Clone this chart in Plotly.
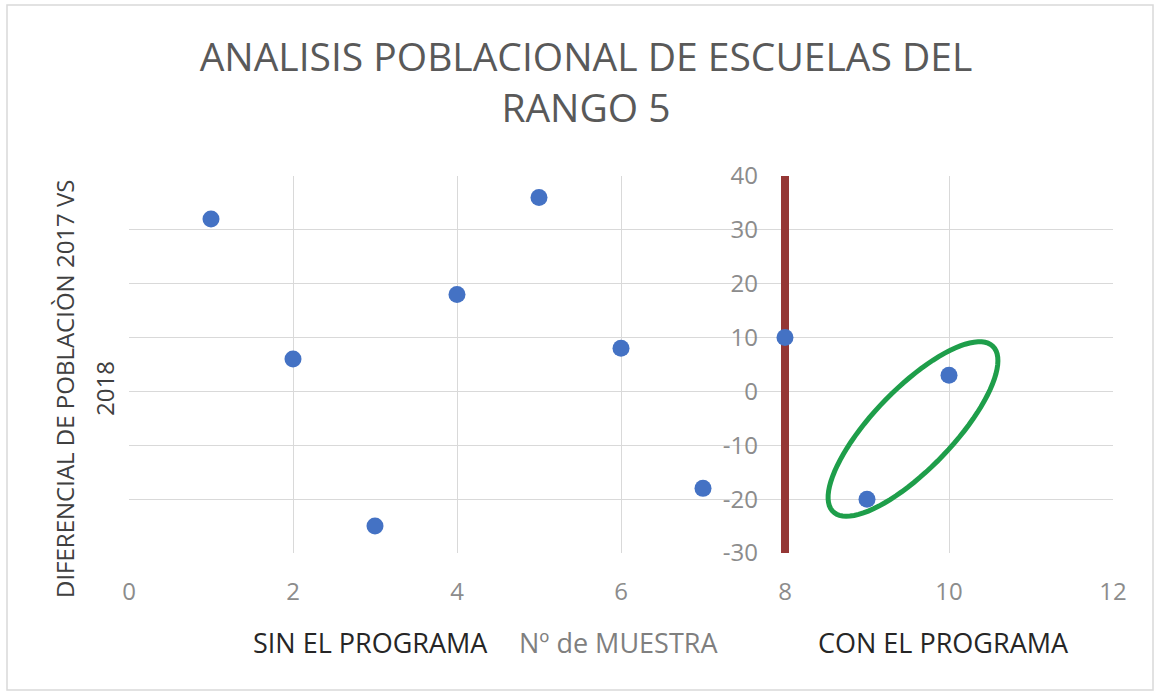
import numpy as np
import plotly.graph_objects as go

muestra = [1, 2, 3, 4, 5, 6, 7, 8, 9, 10]
diferencial = [32, 6, -25, 18, 36, 8, -18, 10, -20, 3]
x_ticks = [0, 2, 4, 6, 8, 10, 12]
y_ticks = [-30, -20, -10, 0, 10, 20, 30, 40]
y_ticklabels = [str(v) for v in y_ticks]
divider_x = 8

W, H = 1155, 694
ML, MR, MT, MB = 129, 42, 176, 141
PW, PH = W - ML - MR, H - MT - MB
XR = [0, 12]
YR = [-30, 40]

def px_to_data(px, py):
    x = XR[0] + (px - ML) / PW * (XR[1] - XR[0])
    y = YR[1] - (py - MT) / PH * (YR[1] - YR[0])
    return x, y

def to_paper(px, py):
    return (px - ML) / PW, 1 - (py - MT) / PH

fig = go.Figure()

fig.add_trace(go.Scatter(
    x=muestra, y=diferencial, mode="markers",
    marker=dict(color="#4472C4", size=17),
    showlegend=False, cliponaxis=False, hoverinfo="skip",
))

# vertical red divider
fig.add_shape(type="line", xref="x", yref="y", x0=divider_x, x1=divider_x,
              y0=YR[0], y1=YR[1], line=dict(color="#953735", width=8), layer="between")

# green ellipse (pixel-space parameters)
cx, cy, a, b, ang = 913, 429, 115, 40, np.deg2rad(-46)
t = np.linspace(0, 2 * np.pi, 90)
ex = cx + a * np.cos(t) * np.cos(ang) - b * np.sin(t) * np.sin(ang)
ey = cy + a * np.cos(t) * np.sin(ang) + b * np.sin(t) * np.cos(ang)
pts = [px_to_data(u, v) for u, v in zip(ex, ey)]
path = "M " + " L ".join(f"{u:.4f},{v:.4f}" for u, v in pts) + " Z"
fig.add_shape(type="path", xref="x", yref="y", path=path,
              line=dict(color="#1E9E4A", width=5), layer="above")

# outer border
bx0, by0 = to_paper(7, 5)
bx1, by1 = to_paper(1153, 690)
fig.add_shape(type="rect", xref="paper", yref="paper", x0=bx0, y0=by1, x1=bx1, y1=by0,
              line=dict(color="#D9D9D9", width=1.5), layer="below")

font_family = "Open Sans"
# y-axis title (two lines)
for txt, pxx in [("DIFERENCIAL DE POBLACIÒN 2017 VS", 64), ("2018", 104)]:
    ytx, yty = to_paper(pxx, 389)
    fig.add_annotation(xref="paper", yref="paper", x=ytx, y=yty, showarrow=False,
                       text=txt, textangle=-90, xanchor="center", yanchor="middle",
                       font=dict(family=font_family, size=24, color="#404040"))

# x-axis labels
for txt, pxx, col in [("SIN EL PROGRAMA", 370, "#262626"),
                      ("Nº de MUESTRA", 618, "#7F7F7F"),
                      ("CON EL PROGRAMA", 943, "#262626")]:
    ax_, ay_ = to_paper(pxx, 642)
    fig.add_annotation(xref="paper", yref="paper", x=ax_, y=ay_, showarrow=False,
                       text=txt, xanchor="center", yanchor="middle",
                       font=dict(family=font_family, size=27, color=col))

fig.update_layout(
    width=W, height=H,
    margin=dict(l=ML, r=MR, t=MT, b=MB),
    paper_bgcolor="white", plot_bgcolor="white",
    hovermode=False,
    title=dict(text="ANALISIS POBLACIONAL DE ESCUELAS DEL<br>RANGO 5",
               x=586 / W, xanchor="center", y=1 - 71 / H, yanchor="middle",
               font=dict(family=font_family, size=39, color="#595959")),
    xaxis=dict(range=XR, tickvals=x_ticks, showgrid=True, gridcolor="#D9D9D9",
               gridwidth=1, zeroline=False, showline=False, fixedrange=True,
               tickfont=dict(family=font_family, size=24, color="#8C8C8C"),
               ticks="", ticklabelstandoff=22),
    yaxis=dict(range=YR, tickvals=y_ticks, ticktext=y_ticklabels,
               showgrid=True, gridcolor="#D9D9D9", fixedrange=True,
               gridwidth=1, zeroline=False, showline=False, anchor="free",
               position=(divider_x - XR[0]) / (XR[1] - XR[0]), side="left",
               tickfont=dict(family=font_family, size=24, color="#8C8C8C"),
               ticks="", ticklabelstandoff=27),
)

fig.write_html("out.html", config={"displayModeBar": False},
               post_script="document.body.style.margin='0';")
